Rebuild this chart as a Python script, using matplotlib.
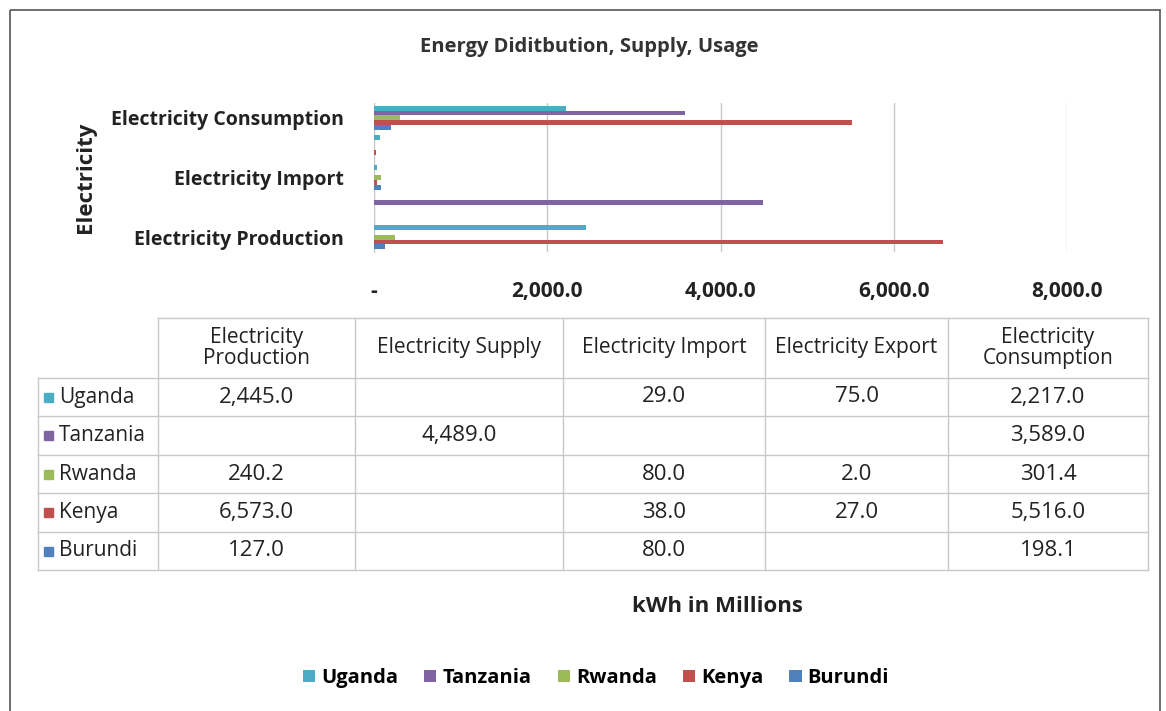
import matplotlib
matplotlib.use("Agg")
import matplotlib.pyplot as plt
from matplotlib.patches import Rectangle
import numpy as np

# data (kWh in millions)
categories = ["Electricity Production", "Electricity Supply", "Electricity Import",
              "Electricity Export", "Electricity Consumption"]
header_labels = ["Electricity\nProduction", "Electricity Supply", "Electricity Import",
                 "Electricity Export", "Electricity\nConsumption"]
countries = ["Uganda", "Tanzania", "Rwanda", "Kenya", "Burundi"]
uganda = [2445.0, None, 29.0, 75.0, 2217.0]
tanzania = [None, 4489.0, None, None, 3589.0]
rwanda = [240.2, None, 80.0, 2.0, 301.4]
kenya = [6573.0, None, 38.0, 27.0, 5516.0]
burundi = [127.0, None, 80.0, None, 198.1]
series = [uganda, tanzania, rwanda, kenya, burundi]
colors = ["#4BACC6", "#8064A2", "#9BBB59", "#C0504D", "#4F81BD"]
xticks = [0, 2000, 4000, 6000, 8000]
xtick_labels = ["-", "2,000.0", "4,000.0", "6,000.0", "8,000.0"]

plt.rcParams['font.family'] = ['Open Sans', 'DejaVu Sans']

W, H = 1166, 711
fig = plt.figure(figsize=(W / 100, H / 100), dpi=100)

# frame around the whole chart
bg = fig.add_axes([0, 0, 1, 1])
bg.set_xlim(0, W)
bg.set_ylim(H, 0)
bg.axis("off")
bg.add_patch(Rectangle((10, 10), 1150, 720, fill=False, edgecolor="#555555", lw=1.2))

# bar chart
ax = fig.add_axes([374 / W, 1 - 252 / H, (1067 - 374) / W, (252 - 103) / H])
y = np.arange(len(categories))
h = 0.165
for i, (name, vals, c) in enumerate(zip(countries, series, colors)):
    v = [0 if x is None else x for x in vals]
    ax.barh(y + (2 - i) * h, v, height=h, color=c, label=name, zorder=3)
ax.set_xlim(0, 8000)
ax.set_ylim(-0.5, 4.5)
ax.set_xticks(xticks)
ax.set_xticklabels(xtick_labels, fontsize=15, fontweight="bold", color="#222222")
ax.set_yticks(y[::2])
ax.set_yticklabels(categories[::2], fontsize=14, fontweight="bold", color="#222222")
ax.tick_params(axis="x", length=0, pad=21)
ax.tick_params(axis="y", length=0, pad=22)
ax.grid(axis="x", color="#C8C8C8", lw=1)
for s in ["top", "right", "bottom"]:
    ax.spines[s].set_visible(False)
ax.spines["left"].set_color("#C8C8C8")
ax.set_ylabel("Electricity", fontsize=16, fontweight="bold", color="#222222")
ax.yaxis.set_label_coords(-(374 - 96) / (1067 - 374), 0.5)

fig.text(589 / W, 1 - 47 / H, "Energy Diditbution, Supply, Usage",
         ha="center", va="center", fontsize=14.5, fontweight="bold", color="#333333")

# data table
col_x = [38, 158, 355, 563, 765, 948, 1148]
row_y = [318, 378, 416, 455, 493, 532, 570]
gc = "#C8C8C8"
# header row lines (starts at first value column)
bg.plot([col_x[1], col_x[-1]], [row_y[0], row_y[0]], color=gc, lw=1)
for yy in row_y[1:]:
    bg.plot([col_x[0], col_x[-1]], [yy, yy], color=gc, lw=1)
bg.plot([col_x[0], col_x[0]], [row_y[1], row_y[-1]], color=gc, lw=1)
for xx in col_x[1:]:
    bg.plot([xx, xx], [row_y[0], row_y[-1]], color=gc, lw=1)
for j, lab in enumerate(header_labels):
    bg.text((col_x[j + 1] + col_x[j + 2]) / 2, (row_y[0] + row_y[1]) / 2, lab,
            ha="center", va="center", fontsize=15, color="#222222", linespacing=1.05)
for i, (name, vals, c) in enumerate(zip(countries, series, colors)):
    yc = (row_y[i + 1] + row_y[i + 2]) / 2
    bg.add_patch(Rectangle((44, yc - 4.5), 9, 9, color=c))
    bg.text(59, yc, name, ha="left", va="center", fontsize=15, color="#222222")
    for j, v in enumerate(vals):
        if v is None:
            continue
        bg.text((col_x[j + 1] + col_x[j + 2]) / 2, yc, f"{v:,.1f}",
                ha="center", va="center", fontsize=16, color="#222222")

fig.text(717 / W, 1 - 606 / H, "kWh in Millions", ha="center", va="center",
         fontsize=16, fontweight="bold", color="#222222")

handles, labels = ax.get_legend_handles_labels()
fig.legend(handles, labels, loc="center", bbox_to_anchor=(596 / W, 1 - 678 / H),
           ncol=5, frameon=False, handlelength=0.6, handleheight=0.6,
           handletextpad=0.3, columnspacing=1.3,
           prop={"size": 14.5, "weight": "bold"})

fig.savefig("out.png", dpi=100)
